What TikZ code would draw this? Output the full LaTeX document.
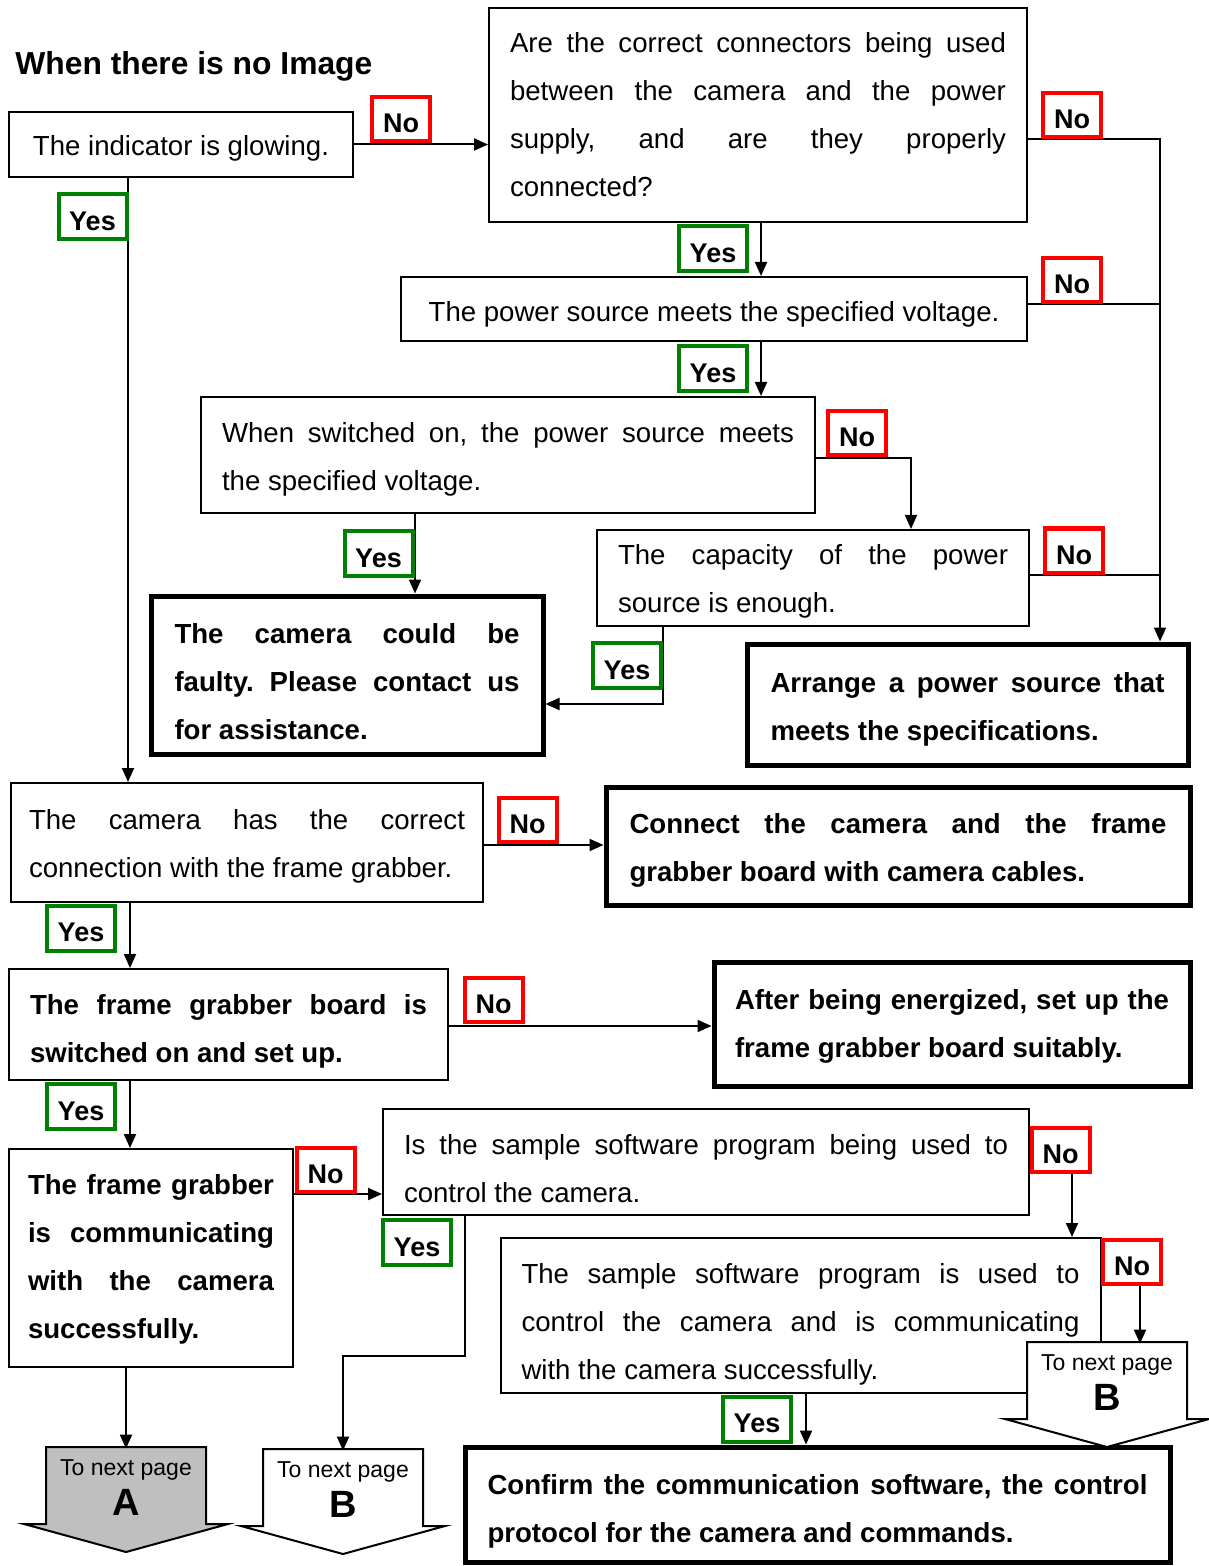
\documentclass[tikz,border=0pt]{standalone}
\usepackage{fontspec}
\setmainfont{Liberation Sans}
\usepackage{tikz}
\usetikzlibrary{arrows.meta}
\definecolor{yesgreen}{RGB}{0,128,0}
\tolerance=10000
\hbadness=10000
\hyphenpenalty=10000
\frenchspacing
% off-page arrow: name, x, top, fill, letter
\newcommand{\nextpage}[5]{%
  \filldraw[line width=1pt, fill=#4] ({#2-80},#3) -- ({#2+80},#3) -- ({#2+80},{#3+77}) -- ({#2+102},{#3+77})
    -- (#2,{#3+105}) -- ({#2-102},{#3+77}) -- ({#2-80},{#3+77}) -- cycle;
  \node[pagebox] (#1) at (#2,{#3+40.5}) {To next page\\{\fontsize{19}{20}\selectfont\bfseries #5}};
}

\begin{document}
\begin{tikzpicture}[x=0.5pt, y=-0.5pt,
  box/.style={draw, line width=1pt, inner xsep=10.5pt, inner ysep=0pt, font=\fontsize{13.8}{24}\selectfont,
    execute at begin node={\tolerance=10000\hyphenpenalty=10000}},
  para/.style={text width=#1, align=justify},
  drop/.style={execute at begin node={\rule{0pt}{#1}}},
  bold/.style={font=\fontsize{13.8}{24}\selectfont\bfseries},
  endbox/.style={box, bold, line width=2.5pt},
  no/.style={draw=red, fill=white, line width=2pt, inner sep=0pt, minimum width=29pt, minimum height=22pt,
    font=\fontsize{13.5}{16}\selectfont\bfseries, drop=13.8pt},
  yes/.style={no, draw=yesgreen, minimum width=34pt, minimum height=22.5pt},
  arr/.style={line width=1pt, -{Triangle[length=7pt,width=6pt]}},
  link/.style={line width=1pt},
  pagebox/.style={inner sep=0pt, minimum width=80pt, minimum height=38.5pt, align=center, font=\fontsize{11.5}{20}\selectfont}]
  \useasboundingbox (0,0) rectangle (1208,1566);

  \node[anchor=base west, inner sep=0pt, font=\fontsize{15.9}{19}\selectfont\bfseries] (title) at (15,75) {When there is no Image};

  % questions and actions
  \node[box, drop=14pt, minimum width=172pt, minimum height=32.5pt] (glow) at (181,144.5) {The indicator is glowing.};
  \node[box, para=248pt, minimum width=269pt, minimum height=107pt] (conn) at (758,115) {Are the correct connectors being used\linebreak between the camera and the power\linebreak supply, and are they properly\linebreak connected?};
  \node[box, drop=15pt, minimum width=313pt, minimum height=32pt] (volt) at (714,309) {The power source meets the specified voltage.};
  \node[box, para=286pt, drop=14pt, minimum width=307pt, minimum height=58pt] (swon) at (508,455) {When switched on, the power source meets\linebreak the specified voltage.};
  \node[box, para=195pt, drop=13pt, minimum width=216pt, minimum height=48pt] (cap) at (813,578) {The capacity of the power\linebreak source is enough.};
  \node[endbox, para=172.5pt, drop=17pt, minimum width=196pt, minimum height=79pt] (faulty) at (347,675) {The camera could be\linebreak faulty. Please contact us\linebreak for assistance.};
  \node[endbox, para=197pt, drop=15pt, minimum width=220.5pt, minimum height=60.5pt] (arrange) at (967.5,704.5) {Arrange a power source that\linebreak meets the specifications.};
  \node[box, para=218pt, drop=14pt, inner xsep=9pt, minimum width=236pt, minimum height=59.5pt] (camconn) at (247,842.5) {The camera has the correct\linebreak connection with the frame grabber.};
  \node[endbox, para=268.5pt, drop=14pt, minimum width=292pt, minimum height=59pt] (connect) at (898,846) {Connect the camera and the frame\linebreak grabber board with camera cables.};
  \node[box, bold, para=198.5pt, drop=17pt, minimum width=219.5pt, minimum height=55.5pt] (fgon) at (228.5,1024.5) {The frame grabber board is\linebreak switched on and set up.};
  \node[endbox, para=217pt, drop=12pt, minimum width=238pt, minimum height=62pt] (energ) at (952,1024) {After being energized, set up the\linebreak frame grabber board suitably.};
  \node[box, bold, para=123pt, drop=11pt, inner xsep=9.5pt, minimum width=142pt, minimum height=109pt] (fgcomm) at (151,1258) {The frame grabber\linebreak is communicating\linebreak with the camera\linebreak successfully.};
  \node[box, para=302pt, drop=17pt, minimum width=323pt, minimum height=53pt] (sw) at (706,1162) {Is the sample software program being used to\linebreak control the camera.};
  \node[box, para=279pt, drop=19pt, minimum width=299.5pt, minimum height=77.5pt] (swcomm) at (800.5,1315.5) {The sample software program is used to\linebreak control the camera and is communicating\linebreak with the camera successfully.};
  \node[endbox, para=330pt, drop=17pt, minimum width=352.5pt, minimum height=57.5pt] (confirm) at (817.5,1504.5) {Confirm the communication software, the control\linebreak protocol for the camera and commands.};

  \nextpage{pageA}{126}{1447}{black!25}{A}
  \nextpage{pageB1}{343}{1449}{white}{B}
  \nextpage{pageB2}{1107}{1342}{white}{B}

  % connectors
  \coordinate (bus) at ([xshift=96.25pt]arrange.north);
  \draw[arr] (glow.east) -- (glow.east -| conn.west);
  \draw[arr] ([xshift=-26.5pt]glow.south) coordinate (t) -- (t |- camconn.north);
  \draw[arr] ([xshift=1.5pt]conn.south) coordinate (t) -- (t |- volt.north);
  \draw[arr] ([yshift=-12pt]conn.east) -| (bus);
  \draw[link] ([yshift=2.5pt]volt.east) coordinate (t) -- (t -| bus);
  \draw[link] ([yshift=1.5pt]cap.east) coordinate (t) -- (t -| bus);
  \draw[arr] ([xshift=23.5pt]volt.south) coordinate (t) -- (t |- swon.north);
  \draw[arr] ([yshift=-1.5pt]swon.east) -| ([xshift=49pt]cap.north);
  \draw[arr] ([xshift=-46.5pt]swon.south) coordinate (t) -- (t |- faulty.north);
  \draw[arr] ([xshift=-75pt]cap.south) |- ([yshift=-14.5pt]faulty.east);
  \draw[arr] ([yshift=-1.25pt]camconn.east) coordinate (t) -- (t -| connect.west);
  \draw[arr] ([xshift=-58.5pt]camconn.south) coordinate (t) -- (t |- fgon.north);
  \draw[arr] ([yshift=-0.75pt]fgon.east) coordinate (t) -- (t -| energ.west);
  \draw[arr] ([xshift=-49.25pt]fgon.south) coordinate (t) -- (t |- fgcomm.north);
  \draw[arr] ([yshift=32pt]fgcomm.east) coordinate (t) -- (t -| sw.west);
  \draw[arr] (pageA.north |- fgcomm.south) -- (pageA.north);
  \draw[arr] ([xshift=-120.5pt]sw.south) -- ++(0,140) -| (pageB1.north);
  \draw[arr] ([yshift=6pt]sw.east) -| ([xshift=135.75pt]swcomm.north);
  \draw[arr] ([yshift=26.75pt]swcomm.east) -| ([xshift=16.5pt]pageB2.north);
  \draw[arr] ([xshift=2.75pt]swcomm.south) coordinate (t) -- (t |- confirm.north);

  % answers
  \node[no] (no1) at (401,119) {No};
  \node[yes] (yes1) at (92.5,216.5) {Yes};
  \node[no] (no2) at (1072,115) {No};
  \node[yes] (yes2) at (713,249) {Yes};
  \node[no] (no3) at (1072,280) {No};
  \node[yes] (yes3) at (713,368.5) {Yes};
  \node[no] (no4) at (857,433) {No};
  \node[yes] (yes4) at (378.5,553.5) {Yes};
  \node[no] (no5) at (1074,550.5) {No};
  \node[yes] (yes5) at (627,665.5) {Yes};
  \node[no] (no6) at (527.5,819.5) {No};
  \node[yes] (yes6) at (81,928) {Yes};
  \node[no] (no7) at (493.5,1000) {No};
  \node[yes] (yes7) at (81,1106.5) {Yes};
  \node[no] (no8) at (325.5,1170) {No};
  \node[yes] (yes8) at (417,1242.5) {Yes};
  \node[no] (no9) at (1060.5,1150) {No};
  \node[no] (no10) at (1132,1262) {No};
  \node[yes] (yes9) at (757,1419) {Yes};
\end{tikzpicture}
\end{document}
